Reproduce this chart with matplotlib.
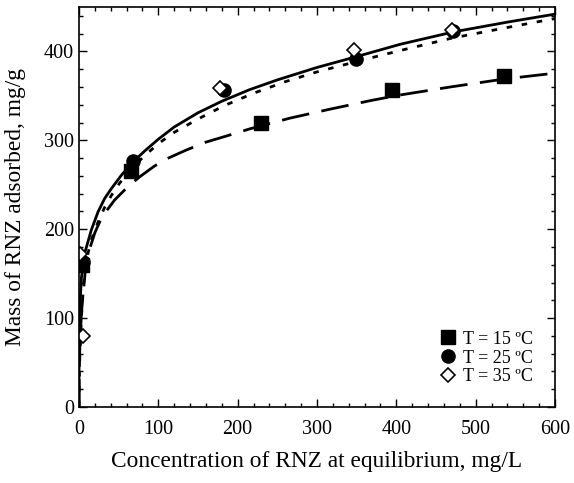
import matplotlib
matplotlib.use("Agg")
import matplotlib.pyplot as plt
from matplotlib.ticker import MultipleLocator

plt.rcParams['font.family'] = ['Liberation Serif', 'DejaVu Serif']

# experimental points (Ce, qe)
c15 = [4, 66, 229, 394, 536]
q15 = [160, 265, 319, 357, 372]
c25 = [5, 68, 183, 349, 472]
q25 = [163, 277, 357, 392, 423]
c35 = [1, 5, 178, 347, 470]
q35 = [172, 80, 359, 402, 424]

# model curves
fit15_c = [0, 0.3, 1, 3, 7.6, 13.5, 20, 26, 32.4, 45, 61.8, 76.5, 95, 110, 135,
           160, 190, 215.6, 266, 316, 369, 404.6, 467.7, 536, 600]
fit15_q = [0, 40, 65, 105, 150, 178, 196, 208, 218, 233, 248, 259, 271, 279, 289,
           298, 306, 313, 325, 335, 345, 351, 360, 369, 375.6]
fit25_c = [0, 0.1, 0.3, 1, 3, 7.1, 15.5, 24, 32.3, 40.8, 53.4, 66, 82.8, 99.6,
           120, 150, 180, 215, 250, 300, 349, 404.6, 472, 540, 600]
fit25_q = [0, 55, 80, 110, 145, 172.7, 199, 219.5, 234.5, 245.7, 260.7, 274,
           288, 301, 315, 331, 344, 357, 368, 382, 394, 408, 422, 433, 442]
fit35_c = [0, 0.3, 1, 3, 6, 9.2, 15.5, 24, 32, 40.8, 51.3, 65, 80.7, 99.6, 120,
           150, 183, 220, 260, 300, 360, 404.6, 470, 540, 600]
fit35_q = [0, 30, 55, 100, 140, 165, 188, 208, 224, 238, 252, 267, 281, 296, 309,
           324, 339, 353, 366, 377, 391, 401, 415, 427, 437]

fig = plt.figure(figsize=(5.74, 4.83), dpi=100)
ax = fig.add_axes([0.1376, 0.1573, 0.8294, 0.8282])

ax.plot(fit15_c, fit15_q, color='black', lw=2.0, dashes=(10, 4.5))
ax.plot(fit25_c, fit25_q, color='black', lw=2.0)
ax.plot(fit35_c, fit35_q, color='black', lw=2.0, dashes=(2.0, 3.5))

ax.plot(c15, q15, 's', color='black', ms=9.5, ls='none', label='T = 15 ºC')
ax.plot(c25, q25, 'o', color='black', ms=9.5, ls='none', label='T = 25 ºC')
ax.plot(c35, q35, 'D', mfc='white', mec='black', mew=1.2, ms=7, ls='none',
        label='T = 35 ºC')

ax.set_xlim(0, 600)
ax.set_ylim(0, 450)
ax.xaxis.set_major_locator(MultipleLocator(100))
ax.xaxis.set_minor_locator(MultipleLocator(20))
ax.yaxis.set_major_locator(MultipleLocator(100))
ax.yaxis.set_minor_locator(MultipleLocator(20))
ax.tick_params(which='both', direction='in', top=True, right=True, labelsize=14.5)
ax.tick_params(which='major', length=6, width=1)
ax.tick_params(which='minor', length=3, width=1)
ax.tick_params(axis='x', which='major', pad=9)
for s in ax.spines.values():
    s.set_linewidth(1.2)

ax.set_xlabel('Concentration of RNZ at equilibrium, mg/L', fontsize=16.8, labelpad=9)
ax.set_ylabel('Mass of RNZ adsorbed, mg/g', fontsize=16.8, labelpad=13)

ax.legend(loc='lower right', frameon=False, fontsize=13, handletextpad=0.35,
          labelspacing=0.1, borderaxespad=0.8, handlelength=1.0)

fig.savefig('out.png', dpi=100)
